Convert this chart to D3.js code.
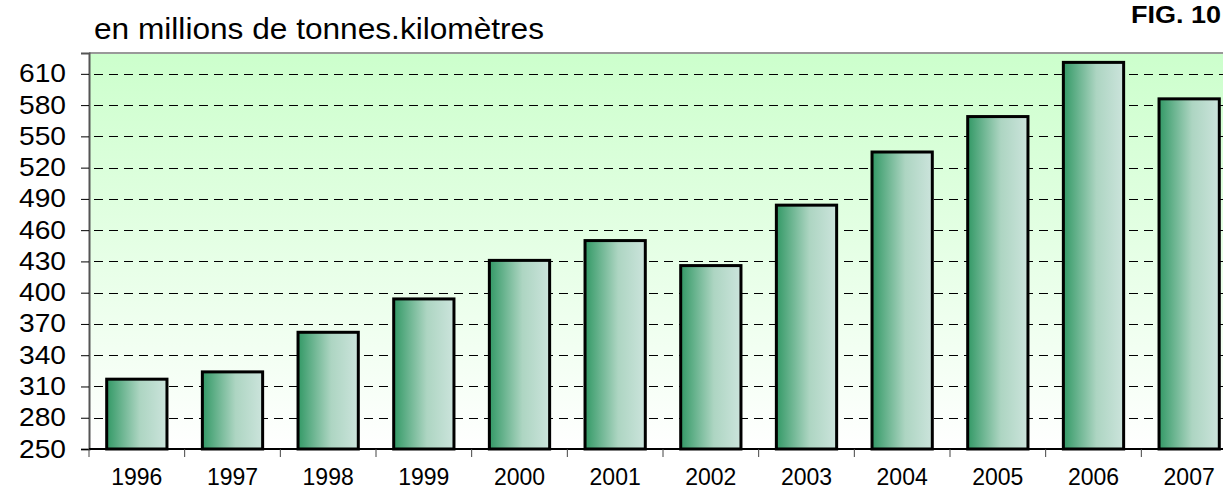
<!DOCTYPE html>
<html>
<head>
<meta charset="utf-8">
<script src="https://cdn.jsdelivr.net/npm/d3@7"></script>
<style>
    body { margin: 0; background: #fff; }
    text { font-family: "Liberation Sans", Arial, sans-serif; fill: #000; }
</style>
</head>
<body>
<svg id="viewBox" width="1223" height="492"></svg>
<script>
'use strict'

const years = ['1996', '1997', '1998', '1999', '2000', '2001', '2002', '2003', '2004', '2005', '2006', '2007']
const values = [317, 324, 362, 394, 431, 450, 426, 484, 535, 569, 621, 586]
const yTicks = [250, 280, 310, 340, 370, 400, 430, 460, 490, 520, 550, 580, 610]
const unitLabel = 'en millions de tonnes.kilomètres'
const figLabel = 'FIG. 10'

const draw_chart = () => {
    const left = 89
    const right = 1237
    const top = 53
    const bottom = 449

    const svg = d3.select('#viewBox')
    const defs = svg.append('defs')

    const bg = defs.append('linearGradient')
        .attr('id', 'bg')
        .attr('x1', 0).attr('y1', 0).attr('x2', 0).attr('y2', 1)
    bg.append('stop').attr('offset', '0%').attr('stop-color', '#ccffcc')
    bg.append('stop').attr('offset', '100%').attr('stop-color', '#ffffff')

    const barFill = defs.append('linearGradient')
        .attr('id', 'barFill')
        .attr('x1', 0).attr('y1', 0).attr('x2', 1).attr('y2', 0)
    barFill.append('stop').attr('offset', '0%').attr('stop-color', '#339966')
    barFill.append('stop').attr('offset', '55%').attr('stop-color', '#add5c2')
    barFill.append('stop').attr('offset', '100%').attr('stop-color', '#cce4dc')

    const x = d3.scaleBand()
        .domain(years)
        .range([left, right])
        .paddingInner(0.37)
        .paddingOuter(0.185)

    const y = d3.scaleLinear()
        .domain([250, 630])
        .range([bottom, top])

    // plot area
    svg.append('rect')
        .attr('x', left)
        .attr('y', top)
        .attr('width', right - left)
        .attr('height', bottom - top)
        .attr('fill', 'url(#bg)')

    svg.append('line')
        .attr('x1', left).attr('x2', right)
        .attr('y1', top).attr('y2', top)
        .attr('stroke', '#999')
        .attr('stroke-width', 2)

    // dashed grid
    svg.append('g')
        .selectAll('line')
        .data(yTicks.filter(d => d > 250))
        .join('line')
        .attr('x1', left)
        .attr('x2', right)
        .attr('y1', d => Math.round(y(d)) + 0.5)
        .attr('y2', d => Math.round(y(d)) + 0.5)
        .attr('stroke', '#000')
        .attr('stroke-dasharray', '9,6')
        .attr('stroke-dashoffset', -5)

    // bars
    svg.append('g')
        .selectAll('rect')
        .data(values)
        .join('rect')
        .attr('x', (d, i) => x(years[i]))
        .attr('y', d => y(d))
        .attr('width', x.bandwidth())
        .attr('height', d => bottom - y(d))
        .attr('fill', 'url(#barFill)')
        .attr('stroke', '#000')
        .attr('stroke-width', 3)

    // y axis
    const yAxis = svg.append('g')
        .attr('transform', `translate(${left},0)`)
        .call(d3.axisLeft(y).tickValues(yTicks).tickSize(8).tickPadding(15))
    yAxis.select('.domain').attr('stroke', '#555').attr('stroke-width', 2)
    yAxis.selectAll('.tick line').attr('stroke', '#000')
    yAxis.selectAll('.tick text')
        .attr('font-family', '"Liberation Sans", Arial, sans-serif')
        .attr('font-size', 25)
        .attr('textLength', 47)
        .attr('lengthAdjust', 'spacingAndGlyphs')
        .attr('fill', '#000')

    // x axis, ticks on category boundaries
    const xAxis = svg.append('g')
        .attr('transform', `translate(0,${bottom})`)
    xAxis.append('line')
        .attr('x1', left).attr('x2', right)
        .attr('stroke', '#000')
        .attr('stroke-width', 2)
    const step = x.step()
    xAxis.selectAll('.bound')
        .data(years)
        .join('line')
        .attr('class', 'bound')
        .attr('x1', d => x(d) - step * x.paddingInner() / 2)
        .attr('x2', d => x(d) - step * x.paddingInner() / 2)
        .attr('y1', 0)
        .attr('y2', 8)
        .attr('stroke', '#444')
    xAxis.selectAll('.label')
        .data(years)
        .join('text')
        .attr('class', 'label')
        .attr('x', d => x(d) + x.bandwidth() / 2)
        .attr('y', 36)
        .attr('text-anchor', 'middle')
        .attr('font-size', 23)
        .text(d => d)

    // titles
    svg.append('text')
        .attr('x', 94)
        .attr('y', 39)
        .attr('font-size', 29)
        .attr('textLength', 450)
        .attr('lengthAdjust', 'spacingAndGlyphs')
        .text(unitLabel)

    svg.append('text')
        .attr('x', 1221)
        .attr('y', 23)
        .attr('text-anchor', 'end')
        .attr('font-size', 24)
        .attr('font-weight', 'bold')
        .attr('textLength', 90)
        .attr('lengthAdjust', 'spacingAndGlyphs')
        .text(figLabel)
}

draw_chart()
</script>
</body>
</html>
